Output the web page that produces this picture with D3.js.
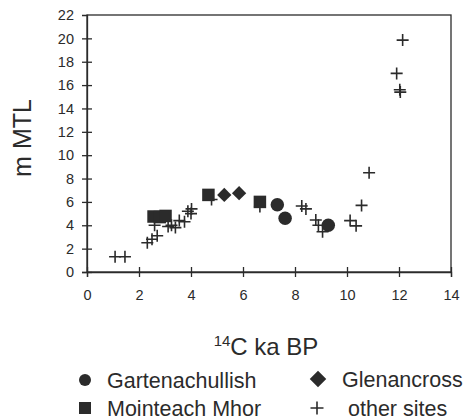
<!DOCTYPE html>
<html><head><meta charset="utf-8">
<script src="https://cdn.jsdelivr.net/npm/d3@7"></script>
<style>body{margin:0;background:#fff;}svg{display:block;font-family:"Liberation Sans",Arial,sans-serif;}</style>
</head><body>
<svg id="c" width="465" height="420"></svg>
<script>
const xTicks = [0,2,4,6,8,10,12,14];
const yTicks = [0,2,4,6,8,10,12,14,16,18,20,22];
const gartenachullish = [[7.32,5.75],[7.62,4.6],[9.28,4.0]];
const glenancross = [[5.28,6.6],[5.85,6.75]];
const mointeachMhor = [[2.56,4.75],[2.8,4.7],[3.02,4.8],[4.67,6.6],[6.65,6.0]];
const otherSites = [[1.08,1.3],[1.46,1.3],[2.32,2.5],[2.5,2.8],[2.7,3.1],[2.6,4.0],
  [3.12,3.9],[3.25,4.0],[3.4,3.8],[3.55,4.4],[3.75,4.3],[3.88,5.2],[4.02,5.4],[4.0,5.0],
  [4.79,6.2],[6.65,5.6],[8.26,5.65],[8.42,5.4],[8.8,4.45],[8.9,4.0],[9.06,3.45],
  [10.12,4.4],[10.35,3.95],[10.56,5.7],[10.85,8.5],[11.91,17.0],[12.03,15.6],[12.05,15.4],[12.14,19.85]];
const legendItems = [
  {label:"Gartenachullish", sym:"circle"},
  {label:"Glenancross", sym:"diamond"},
  {label:"Mointeach Mhor", sym:"square"},
  {label:"other sites", sym:"cross"}
];

const svg = d3.select("#c");
const col = "#2b2b2b";
const x = d3.scaleLinear().domain([0,14]).range([87,451]);
const y = d3.scaleLinear().domain([0,22]).range([272,15]);

svg.append("rect").attr("x",x(0)).attr("y",y(22)).attr("width",x(14)-x(0)).attr("height",y(0)-y(22))
  .attr("fill","none").attr("stroke",col).attr("stroke-width",1.3);

const xa = svg.append("g").attr("transform",`translate(0,${y(0)})`)
  .call(d3.axisBottom(x).tickValues(xTicks).tickSize(5).tickPadding(13).tickFormat(d3.format("d")));
xa.selectAll(".tick line").attr("y1",-5).attr("y2",5);
const ya = svg.append("g").attr("transform",`translate(${x(0)},0)`)
  .call(d3.axisLeft(y).tickValues(yTicks).tickSize(5).tickPadding(8).tickFormat(d3.format("d")));
ya.selectAll(".tick line").attr("x1",-5).attr("x2",5);
[xa,ya].forEach(a=>{
  a.select(".domain").attr("stroke",col).attr("stroke-width",1.3);
  a.selectAll(".tick line").attr("stroke",col).attr("stroke-width",1.3);
  a.selectAll("text").attr("fill",col).style("font-size","14.5px");
});
ya.selectAll(".tick").filter(d=>d===22).select("line").remove();

svg.append("text").attr("transform","translate(31,138) rotate(-90)").attr("text-anchor","middle")
  .attr("fill",col).style("font-size","25px").text("m MTL");
const xl = svg.append("text").attr("x",266).attr("y",355).attr("text-anchor","middle").attr("fill",col).style("font-size","24px");
xl.append("tspan").attr("dy","-9").style("font-size","15px").text("14");
xl.append("tspan").attr("dy","9").text("C ka BP");

function drawSym(g, sym, cx, cy, s){
  if(sym==="circle") g.append("circle").attr("cx",cx).attr("cy",cy).attr("r",s*0.5).attr("fill",col);
  else if(sym==="square") g.append("rect").attr("x",cx-s/2).attr("y",cy-s/2).attr("width",s).attr("height",s).attr("fill",col);
  else if(sym==="diamond") g.append("path").attr("d",`M${cx},${cy-s*0.55}L${cx+s*0.55},${cy}L${cx},${cy+s*0.55}L${cx-s*0.55},${cy}Z`).attr("fill",col);
  else g.append("path").attr("d",`M${cx-s/2},${cy}H${cx+s/2}M${cx},${cy-s/2}V${cy+s/2}`).attr("stroke",col).attr("stroke-width",1.6).attr("fill","none");
}
const pts = svg.append("g");
otherSites.forEach(d=>drawSym(pts,"cross",x(d[0]),y(d[1]),12));
mointeachMhor.forEach(d=>drawSym(pts,"square",x(d[0]),y(d[1]),12.5));
glenancross.forEach(d=>drawSym(pts,"diamond",x(d[0]),y(d[1]),13));
gartenachullish.forEach(d=>drawSym(pts,"circle",x(d[0]),y(d[1]),13.5));

const lg = svg.append("g");
const lpos = [[85,380],[318,379],[85,408],[317,408]];
const tpos = [107,342,107,348];
legendItems.forEach((it,i)=>{
  const [lx,ly]=lpos[i];
  drawSym(lg,it.sym,lx,ly, it.sym==="cross"?13:(it.sym==="diamond"?15:12));
  lg.append("text").attr("x",tpos[i]).attr("y",ly+8).attr("fill",col).style("font-size","21.5px").text(it.label);
});
</script>
</body></html>
